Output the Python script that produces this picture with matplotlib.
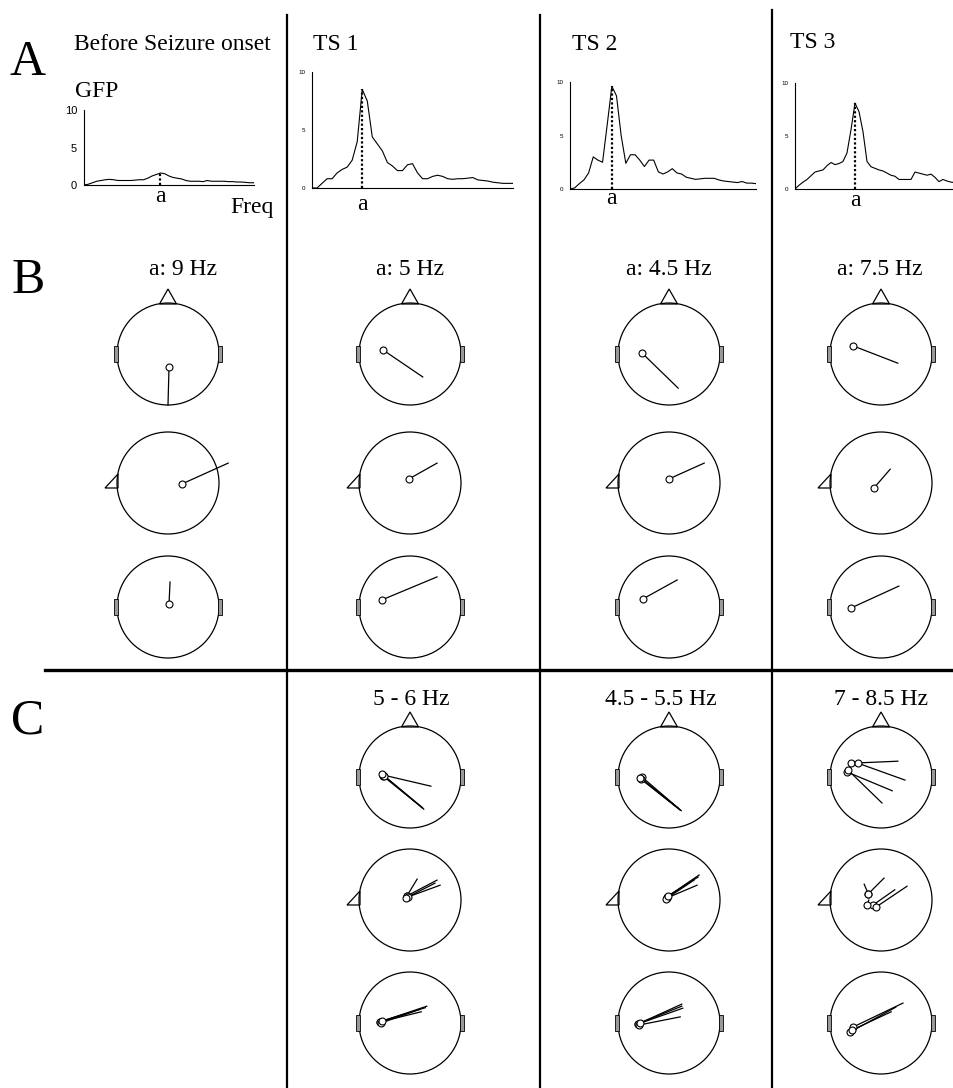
import numpy as np
import matplotlib.pyplot as plt
from matplotlib.patches import Circle, Polygon, Rectangle

# GFP spectra, 0-20 Hz in 0.5 Hz steps
freq = np.arange(0, 20.5, 0.5)
gfp_before = [0, 0.1, 0.3, 0.5, 0.6, 0.7, 0.75, 0.7, 0.6, 0.6, 0.6, 0.6, 0.65, 0.7, 0.7,
              0.9, 1.2, 1.4, 1.6, 1.5, 1.2, 1.0, 0.9, 0.8, 0.6, 0.5, 0.5, 0.5, 0.45,
              0.6, 0.5, 0.5, 0.5, 0.5, 0.45, 0.45, 0.4, 0.4, 0.35, 0.3, 0.3]
gfp_ts1 = [0, 0, 0.4, 0.8, 0.8, 1.3, 1.6, 1.8, 2.4, 4.0, 8.5, 7.5, 4.4, 3.8, 3.2,
           2.2, 1.9, 1.5, 1.5, 2.0, 2.1, 1.3, 0.8, 0.8, 1.0, 1.1, 1.0, 0.8, 0.75,
           0.8, 0.8, 0.85, 0.9, 0.7, 0.65, 0.6, 0.5, 0.45, 0.4, 0.4, 0.4]
gfp_ts2 = [0, 0.1, 0.5, 0.85, 1.5, 3.0, 2.7, 2.5, 6.0, 9.6, 8.7, 5.0, 2.4, 3.2, 3.2,
           2.7, 2.1, 2.7, 2.7, 1.6, 1.4, 1.6, 1.9, 1.5, 1.4, 1.1, 1.0, 0.9, 0.95,
           1.0, 1.0, 1.0, 0.85, 0.75, 0.7, 0.65, 0.6, 0.7, 0.55, 0.55, 0.5]
gfp_ts3 = [0, 0.35, 0.65, 0.9, 1.25, 1.6, 1.7, 1.8, 2.2, 2.5, 2.3, 2.4, 2.6, 3.4, 5.6,
           8.1, 7.3, 5.4, 2.6, 2.1, 1.95, 1.8, 1.7, 1.5, 1.3, 1.2, 0.9, 0.9, 0.9,
           0.9, 1.6, 1.5, 1.4, 1.3, 1.4, 1.1, 0.7, 0.9, 0.75, 0.65, 0.6]
peak_freq = [9, 5, 4.5, 7.5]

titles = ["Before Seizure onset", "TS 1", "TS 2", "TS 3"]
b_labels = ["a: 9 Hz", "a: 5 Hz", "a: 4.5 Hz", "a: 7.5 Hz"]
c_labels = ["5 - 6 Hz", "4.5 - 5.5 Hz", "7 - 8.5 Hz"]

# dipoles: (x, y, end x, end y) in head radius units, y pointing down
b_top = [[(0.02, 0.25, 0.0, 1.0)],
         [(-0.53, -0.08, 0.25, 0.45)],
         [(-0.53, -0.02, 0.18, 0.67)],
         [(-0.55, -0.16, 0.33, 0.18)]]
b_side = [[(0.27, 0.02, 1.18, -0.39)],
          [(-0.02, -0.08, 0.53, -0.39)],
          [(0.0, -0.08, 0.69, -0.39)],
          [(-0.14, 0.10, 0.18, -0.27)]]
b_back = [[(0.02, -0.06, 0.04, -0.49)],
          [(-0.55, -0.14, 0.53, -0.59)],
          [(-0.51, -0.16, 0.16, -0.53)],
          [(-0.59, 0.02, 0.35, -0.41)]]

c_top = [[(-0.53, -0.04, 0.41, 0.18), (-0.53, -0.02, 0.25, 0.61),
          (-0.51, -0.02, 0.27, 0.63), (-0.55, -0.06, 0.23, 0.59)],
         [(-0.55, 0.02, 0.20, 0.63), (-0.53, 0.0, 0.24, 0.66),
          (-0.55, 0.04, 0.22, 0.65), (-0.57, 0.02, 0.18, 0.61)],
         [(-0.59, -0.27, 0.33, -0.31), (-0.45, -0.27, 0.47, 0.06),
          (-0.67, -0.10, 0.22, 0.27), (-0.65, -0.14, 0.02, 0.51)]]
c_side = [[(-0.06, -0.08, 0.14, -0.41), (-0.06, -0.08, 0.53, -0.39),
           (-0.04, -0.06, 0.59, -0.29), (-0.08, -0.04, 0.49, -0.33)],
          [(-0.04, -0.06, 0.59, -0.49), (-0.04, -0.04, 0.55, -0.29),
           (-0.06, -0.02, 0.49, -0.39), (-0.02, -0.08, 0.57, -0.45)],
          [(-0.25, -0.12, -0.33, -0.31), (-0.25, -0.12, 0.06, -0.43),
           (-0.16, 0.10, 0.27, -0.20), (-0.10, 0.14, 0.51, -0.27),
           (-0.27, 0.10, -0.24, 0.0)]]
c_back = [[(-0.59, -0.02, 0.33, -0.33), (-0.59, -0.02, 0.22, -0.22),
           (-0.57, 0.0, 0.20, -0.27), (-0.55, -0.04, 0.30, -0.30)],
          [(-0.61, 0.02, 0.25, -0.37), (-0.61, 0.02, 0.27, -0.29),
           (-0.59, 0.04, 0.22, -0.12), (-0.57, 0.0, 0.25, -0.33)],
          [(-0.55, 0.08, 0.43, -0.39), (-0.61, 0.18, 0.29, -0.31),
           (-0.57, 0.14, 0.20, -0.22)]]

W, H = 954, 1088
SERIF = 'Liberation Serif'
SANS = 'Liberation Sans'

fig = plt.figure(figsize=(W / 100, H / 100), dpi=100)
ax = fig.add_axes([0, 0, 1, 1])
ax.set_xlim(0, W)
ax.set_ylim(H, 0)
ax.axis('off')

# frame lines
for x, y0 in [(287, 15), (540, 15), (772, 10)]:
    ax.plot([x, x], [y0, H], color='k', lw=1.6)
ax.plot([45, W], [670, 670], color='k', lw=2.4)

for lab, y in [("A", 75), ("B", 293), ("C", 733)]:
    ax.text(28, y, lab, fontsize=36, family=SERIF, ha='center', va='baseline')

# A: GFP spectra
gfp = [gfp_before, gfp_ts1, gfp_ts2, gfp_ts3]
boxes = [(84, 254, 185, 110), (312, 513, 188, 72), (570, 756, 189, 82), (795, 955, 189, 83)]
title_pos = [(74, 50), (313, 50), (572, 50), (790, 48)]
a_off = [12, 16, 10, 11]
for i in range(4):
    l, r, yb, yt = boxes[i]
    g = fig.add_axes([l / W, 1 - yb / H, (r - l) / W, (yb - yt) / H])
    g.plot(freq, gfp[i], color='k', lw=0.8)
    pv = gfp[i][list(freq).index(peak_freq[i])]
    g.plot([peak_freq[i]] * 2, [0, pv], color='k', lw=1.6, ls=(0, (1, 1)))
    g.set_xlim(0, 20)
    g.set_ylim(0, 10)
    for s in ['top', 'right']:
        g.spines[s].set_visible(False)
    for s in ['left', 'bottom']:
        g.spines[s].set_linewidth(0.8)
    g.set_xticks([])
    g.set_yticks([0, 5, 10])
    g.set_yticklabels(['0', '5', '10'], family=SANS, fontsize=8 if i == 0 else 4.5)
    g.tick_params(length=0, pad=5)
    g.patch.set_alpha(0)
    g.annotate('a', xy=(peak_freq[i], 0), xytext=(0, -a_off[i] * 0.72),
               textcoords='offset points', ha='center', va='center',
               fontsize=17, family=SERIF, annotation_clip=False)
    tx, ty = title_pos[i]
    ax.text(tx, ty, titles[i], fontsize=17, family=SERIF, ha='left', va='baseline')

ax.text(75, 97, "GFP", fontsize=17, family=SERIF, ha='left', va='baseline')
ax.text(230, 213, "Freq", fontsize=17, family=SERIF, ha='left', va='baseline')

# B and C: dipole heads
R = 51
col_x = [168, 410, 669, 881]
b_rows_y = [354, 483, 607]
c_rows_y = [777, 900, 1023]


def draw_head(cx, cy, view, dips):
    ax.add_patch(Circle((cx, cy), R, fill=False, ec='k', lw=0.9, zorder=2))
    if view == 'top':
        ax.add_patch(Polygon([(cx - 8.5, cy - R + 1), (cx + 8.5, cy - R + 1), (cx, cy - R - 14)],
                             closed=True, fc='white', ec='k', lw=0.9, zorder=1))
    if view == 'side':
        ax.add_patch(Polygon([(cx - R - 12, cy + 5), (cx - R + 1, cy - 9), (cx - R + 1, cy + 5)],
                             closed=True, fc='white', ec='k', lw=0.9, zorder=1))
    else:
        for ex in [cx - R - 3, cx + R - 1]:
            ax.add_patch(Rectangle((ex, cy - 8), 4, 16, fc='0.6', ec='k', lw=0.6, zorder=3))
    for x0, y0, x1, y1 in dips:
        ax.plot([cx + R * x0, cx + R * x1], [cy + R * y0, cy + R * y1], color='k', lw=0.9, zorder=4)
    for x0, y0, x1, y1 in dips:
        ax.plot(cx + R * x0, cy + R * y0, 'o', ms=5, mfc='white', mec='k', mew=0.8, zorder=5)


b_text_x = [183, 410, 669, 880]
for j in range(4):
    ax.text(b_text_x[j], 275, b_labels[j], fontsize=17, family=SERIF, ha='center', va='baseline')
    draw_head(col_x[j], b_rows_y[0], 'top', b_top[j])
    draw_head(col_x[j], b_rows_y[1], 'side', b_side[j])
    draw_head(col_x[j], b_rows_y[2], 'back', b_back[j])

c_text_x = [411, 661, 881]
for j in range(3):
    ax.text(c_text_x[j], 705, c_labels[j], fontsize=17, family=SERIF, ha='center', va='baseline')
    draw_head(col_x[j + 1], c_rows_y[0], 'top', c_top[j])
    draw_head(col_x[j + 1], c_rows_y[1], 'side', c_side[j])
    draw_head(col_x[j + 1], c_rows_y[2], 'back', c_back[j])

fig.savefig('out.png', dpi=100)
